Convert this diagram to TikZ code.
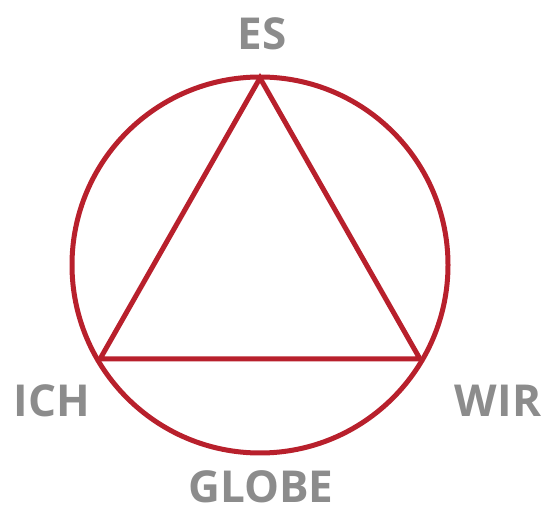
\documentclass[tikz,border=0pt]{standalone}
\usepackage{fontspec}
\setmainfont{Open Sans}
\definecolor{ringred}{RGB}{184,32,44}
\definecolor{labelgray}{RGB}{140,140,140}
\begin{document}
\begin{tikzpicture}[x=1pt,y=1pt,
  shape line/.style={draw=ringred,line width=5pt,line join=miter},
  lbl/.style={text=labelgray,font=\fontsize{44}{44}\selectfont\bfseries,anchor=base,inner sep=0pt}]
\useasboundingbox (0,0) rectangle (545,513);
\coordinate (c) at (260,248);
\coordinate (t) at (260,435);
\coordinate (l) at (100,154);
\coordinate (r) at (420,154);
\draw[shape line] (c) circle (188);
\draw[shape line] (t) -- (l) -- (r) -- cycle;
\node[lbl] (es) at (262,463) {ES};
\node[lbl] (ich) at (52,96) {ICH};
\node[lbl] (wir) at (498,96) {WIR};
\node[lbl] (globe) at (261,10) {GLOBE};
\end{tikzpicture}
\end{document}
